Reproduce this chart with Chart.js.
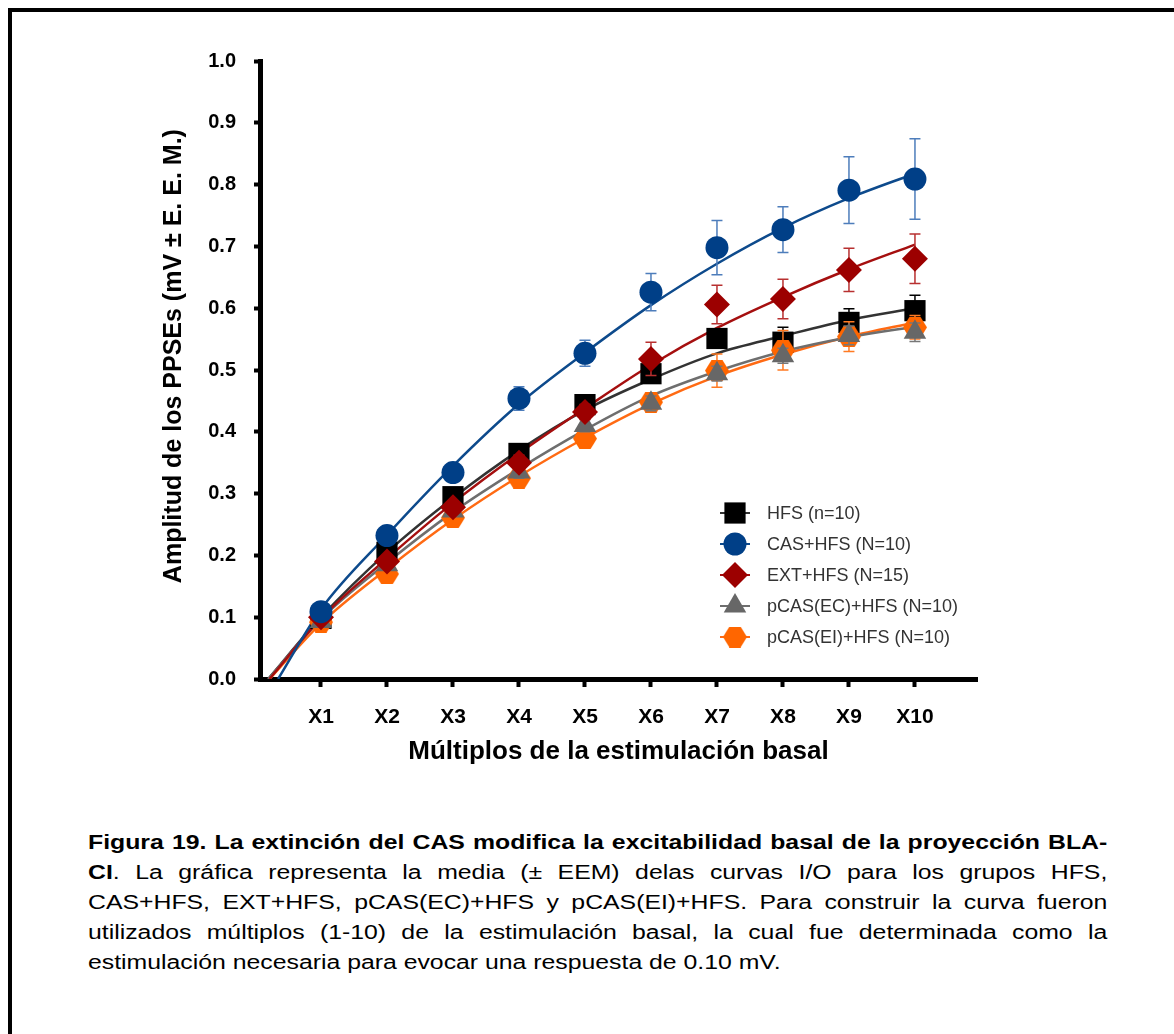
<!DOCTYPE html>
<html lang="es">
<head>
<meta charset="utf-8">
<title>Figura 19 - Curvas I/O</title>
<script src="https://cdn.jsdelivr.net/npm/chart.js@4.4.1/dist/chart.umd.min.js"></script>
<style>
  html, body { margin: 0; padding: 0; background: #fff; }
  body { width: 1174px; height: 1034px; position: relative; overflow: hidden; font-family: "Liberation Sans", Arial, sans-serif; }
  #frame { position: absolute; left: 8px; top: 8px; right: -10px; bottom: -10px; border-top: 4px solid #000; border-left: 4px solid #000; }
  #ioChart { position: absolute; left: 0; top: 0; }
  #caption { position: absolute; left: 88px; top: 827px; width: 822px; font-size: 20px; line-height: 30px; color: #000; transform: scaleX(1.24); transform-origin: 0 0; }
  #caption div { text-align: justify; text-align-last: justify; white-space: nowrap; }
  #caption div.last { text-align-last: left; }
</style>
</head>
<body>
<div id="frame"></div>
<canvas id="ioChart" width="1174" height="790"></canvas>
<div id="caption">
  <div><b>Figura 19. La extinción del CAS modifica la excitabilidad basal de la proyección BLA-</b></div>
  <div><b>CI</b>. La gráfica representa la media (± EEM) delas curvas I/O para los grupos HFS,</div>
  <div>CAS+HFS, EXT+HFS, pCAS(EC)+HFS y pCAS(EI)+HFS. Para construir la curva fueron</div>
  <div>utilizados múltiplos (1-10) de la estimulación basal, la cual fue determinada como la</div>
  <div class="last">estimulación necesaria para evocar una respuesta de 0.10 mV.</div>
</div>
<script>
// Curvas I/O: media +/- EEM por grupo, y curva ajustada de cada grupo

// x axis
const xLabels = ['X1', 'X2', 'X3', 'X4', 'X5', 'X6', 'X7', 'X8', 'X9', 'X10'];
const multiples = [1, 2, 3, 4, 5, 6, 7, 8, 9, 10];

const groupNames = ['HFS (n=10)', 'CAS+HFS (N=10)', 'EXT+HFS (N=15)', 'pCAS(EC)+HFS (N=10)', 'pCAS(EI)+HFS (N=10)'];

// means and SEM (mV)
const hfsMean = [0.098, 0.205, 0.295, 0.365, 0.444, 0.494, 0.551, 0.545, 0.577, 0.596];
const hfsSem  = [0.004, 0.008, 0.008, 0.010, 0.010, 0.012, 0.015, 0.024, 0.022, 0.025];
const casMean = [0.109, 0.232, 0.334, 0.454, 0.527, 0.626, 0.698, 0.727, 0.791, 0.809];
const casSem  = [0.005, 0.008, 0.010, 0.019, 0.021, 0.030, 0.044, 0.037, 0.054, 0.065];
const extMean = [0.100, 0.190, 0.278, 0.350, 0.432, 0.518, 0.606, 0.615, 0.662, 0.680];
const extSem  = [0.005, 0.010, 0.010, 0.012, 0.012, 0.027, 0.031, 0.032, 0.035, 0.040];
const ecMean  = [0.093, 0.185, 0.272, 0.335, 0.410, 0.446, 0.494, 0.523, 0.556, 0.561];
const ecSem   = [0.004, 0.008, 0.008, 0.010, 0.010, 0.012, 0.012, 0.012, 0.015, 0.015];
const eiMean  = [0.092, 0.170, 0.261, 0.325, 0.389, 0.448, 0.499, 0.532, 0.554, 0.569];
const eiSem   = [0.004, 0.008, 0.008, 0.010, 0.010, 0.015, 0.027, 0.032, 0.024, 0.019];

// fitted curves: value read at X1..X10, plus where each curve leaves 0 mV
const hfsFit = [0.100, 0.205, 0.293, 0.370, 0.435, 0.485, 0.527, 0.555, 0.581, 0.600];
const casFit = [0.113, 0.233, 0.345, 0.445, 0.528, 0.605, 0.672, 0.730, 0.778, 0.818];
const extFit = [0.098, 0.195, 0.285, 0.365, 0.438, 0.508, 0.568, 0.618, 0.663, 0.703];
const ecFit  = [0.097, 0.188, 0.270, 0.340, 0.403, 0.458, 0.498, 0.530, 0.553, 0.570];
const eiFit  = [0.090, 0.178, 0.258, 0.328, 0.390, 0.445, 0.490, 0.525, 0.554, 0.577];
const fitZeroAt = [0.20, 0.35, 0.22, 0.20, 0.22];

Chart.defaults.font.family = '"Liberation Sans", Arial, sans-serif';
Chart.defaults.color = '#000';

// orange hexagon marker (no built-in style for it)
function makeHexagon(w, h, color) {
    const c = document.createElement('canvas');
    c.width = w;
    c.height = h;
    const g = c.getContext('2d');
    g.fillStyle = color;
    g.beginPath();
    g.moveTo(0, h / 2);
    g.lineTo(w * 0.27, 0);
    g.lineTo(w * 0.73, 0);
    g.lineTo(w, h / 2);
    g.lineTo(w * 0.73, h);
    g.lineTo(w * 0.27, h);
    g.closePath();
    g.fill();
    return c;
}
const hexagon = makeHexagon(24, 21, '#ff6600');

const groups = [
    { mean: hfsMean, sem: hfsSem, fit: hfsFit, color: '#000000', line: '#333333', err: '#000000', style: 'rect', radius: 15, order: 5 },
    { mean: casMean, sem: casSem, fit: casFit, color: '#003f87', line: '#0d4a8c', err: '#4d7dbb', style: 'circle', radius: 11.5, order: 1 },
    { mean: extMean, sem: extSem, fit: extFit, color: '#9c0000', line: '#a50f0f', err: '#b83030', style: 'rectRot', radius: 13, order: 2 },
    { mean: ecMean, sem: ecSem, fit: ecFit, color: '#676767', line: '#6e6e6e', err: '#777777', style: 'triangle', radius: 13, order: 3 },
    { mean: eiMean, sem: eiSem, fit: eiFit, color: '#ff6600', line: '#ff6a13', err: '#ff7a22', style: hexagon, radius: 12, order: 4 }
];

const meanSets = groups.map((g, i) => ({
    label: groupNames[i],
    data: multiples.map((m, j) => ({ x: m, y: g.mean[j] })),
    sem: g.sem,
    errorColor: g.err,
    showLine: false,
    pointStyle: g.style,
    pointRadius: g.radius,
    pointBackgroundColor: g.color,
    pointBorderWidth: 0,
    legendLine: g.line,
    order: g.order
}));

const fitSets = groups.map((g, i) => ({
    label: groupNames[i] + ' ajuste',
    data: [{ x: fitZeroAt[i], y: 0 }].concat(multiples.map((m, j) => ({ x: m, y: g.fit[j] }))),
    borderColor: g.line,
    borderWidth: 2.5,
    pointRadius: 0,
    cubicInterpolationMode: 'monotone',
    order: 10 + g.order
}));

// vertical SEM bars, drawn just under each group's markers
const errorBars = {
    id: 'errorBars',
    beforeDatasetDraw(chart, args) {
        const ds = chart.data.datasets[args.index];
        if (!ds.sem) return;
        const y = chart.scales.y;
        const ctx = chart.ctx;
        ctx.save();
        ctx.strokeStyle = ds.errorColor;
        ctx.lineWidth = 1.5;
        args.meta.data.forEach((pt, i) => {
            const v = ds.data[i].y;
            const top = y.getPixelForValue(v + ds.sem[i]);
            const bot = y.getPixelForValue(v - ds.sem[i]);
            ctx.beginPath();
            ctx.moveTo(pt.x, top);
            ctx.lineTo(pt.x, bot);
            ctx.moveTo(pt.x - 5.5, top);
            ctx.lineTo(pt.x + 5.5, top);
            ctx.moveTo(pt.x - 5.5, bot);
            ctx.lineTo(pt.x + 5.5, bot);
            ctx.stroke();
        });
        ctx.restore();
    }
};

// legend sitting inside the plot, bottom right
const insideLegend = {
    id: 'insideLegend',
    afterDatasetsDraw(chart, args, opts) {
        const ctx = chart.ctx;
        const sets = chart.data.datasets.filter(d => d.sem);
        ctx.save();
        sets.forEach((ds, i) => {
            const cx = opts.x;
            const cy = opts.y + i * opts.gap;
            ctx.strokeStyle = ds.legendLine;
            ctx.lineWidth = 2;
            ctx.beginPath();
            ctx.moveTo(cx - 15, cy);
            ctx.lineTo(cx + 15, cy);
            ctx.stroke();
            ctx.fillStyle = ds.pointBackgroundColor;
            Chart.helpers.drawPoint(ctx, { pointStyle: ds.pointStyle, radius: ds.pointRadius, rotation: 0, borderWidth: 0 }, cx, cy);
            ctx.fillStyle = '#333';
            ctx.font = '18px "Liberation Sans", Arial, sans-serif';
            ctx.textBaseline = 'middle';
            ctx.textAlign = 'left';
            ctx.fillText(ds.label, cx + 32, cy + 1);
        });
        ctx.restore();
    }
};

new Chart(document.getElementById('ioChart'), {
    type: 'line',
    data: {
        datasets: meanSets.concat(fitSets)
    },
    options: {
        responsive: false,
        animation: false,
        events: [],
        layout: {
            padding: { left: 158, right: 197, top: 61, bottom: 11 }
        },
        plugins: {
            legend: { display: false },
            tooltip: { enabled: false },
            insideLegend: { x: 735, y: 513, gap: 31 }
        },
        scales: {
            x: {
                type: 'linear',
                min: 0.076,
                max: 10.94,
                afterFit(scale) { scale.height = 100; },
                afterBuildTicks(scale) { scale.ticks = multiples.map(v => ({ value: v })); },
                ticks: {
                    autoSkip: false,
                    maxRotation: 0,
                    padding: 18,
                    font: { size: 21, weight: 'bold' },
                    callback: function(value) {
                        return xLabels[value - 1];
                    }
                },
                grid: {
                    drawOnChartArea: false,
                    drawTicks: true,
                    tickLength: 8,
                    tickWidth: 4,
                    tickColor: '#000'
                },
                border: { width: 5, color: '#000' },
                title: {
                    display: true,
                    text: 'Múltiplos de la estimulación basal',
                    font: { size: 26, weight: 'bold' },
                    padding: { top: 0, bottom: 12 }
                }
            },
            y: {
                min: 0,
                max: 1,
                afterFit(scale) { scale.width = 102; },
                ticks: {
                    stepSize: 0.1,
                    padding: 18,
                    font: { size: 20, weight: 'bold' },
                    callback: function(value) {
                        return value.toFixed(1);
                    }
                },
                grid: {
                    drawOnChartArea: false,
                    drawTicks: true,
                    tickLength: 6,
                    tickWidth: 4,
                    tickColor: '#000'
                },
                border: { width: 5, color: '#000' },
                title: {
                    display: true,
                    // leading spaces nudge the centred title up to where it sits in the figure
                    text: '    Amplitud de los PPSEs (mV ± E. E. M.)',
                    font: { size: 25, weight: 'bold' },
                    padding: { top: 1, bottom: 0 }
                }
            }
        }
    },
    plugins: [errorBars, insideLegend]
});
</script>
</body>
</html>
